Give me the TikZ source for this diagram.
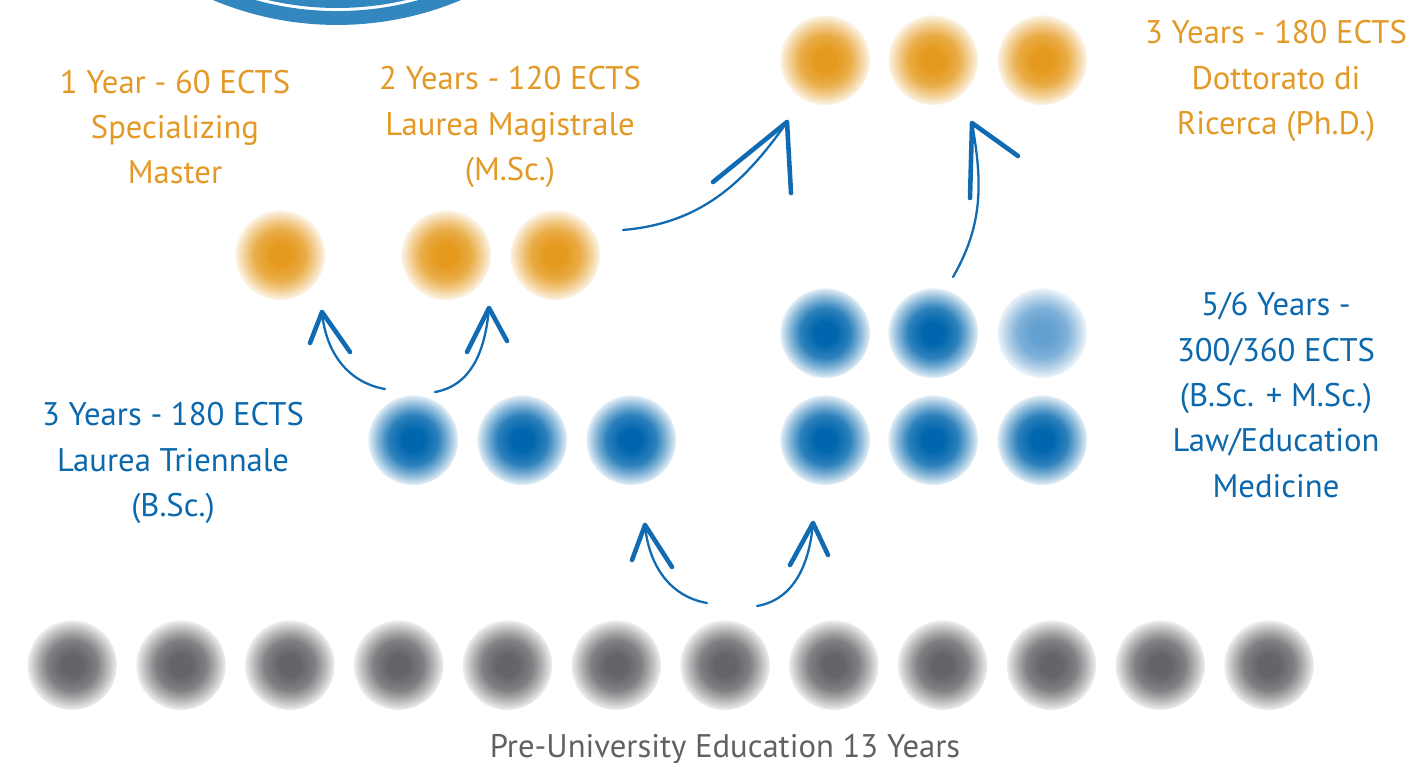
\documentclass[tikz,border=0pt]{standalone}
\usepackage{fontspec}
\setmainfont{PT Sans}
\usetikzlibrary{arrows.meta}

\definecolor{dotgray}{RGB}{100,101,104}
\definecolor{dotorange}{RGB}{229,154,30}
\definecolor{dotblue}{RGB}{0,102,173}
\definecolor{dotlight}{RGB}{100,160,208}
\definecolor{txtorange}{RGB}{227,153,38}
\definecolor{txtblue}{RGB}{11,104,173}
\definecolor{txtgray}{RGB}{97,97,97}
\definecolor{penblue}{RGB}{17,107,178}
\definecolor{ringblue}{RGB}{50,135,190}

\pgfdeclareradialshading{grayball}{\pgfpoint{0bp}{0bp}}{color(0bp)=(dotgray); color(6bp)=(dotgray); color(14bp)=(dotgray!82!white); color(20bp)=(dotgray!45!white); color(25bp)=(dotgray!10!white); color(25.3bp)=(white); color(50bp)=(white)}
\pgfdeclareradialshading{orangeball}{\pgfpoint{0bp}{0bp}}{color(0bp)=(dotorange); color(6bp)=(dotorange); color(14bp)=(dotorange!82!white); color(20bp)=(dotorange!45!white); color(25bp)=(dotorange!10!white); color(25.3bp)=(white); color(50bp)=(white)}
\pgfdeclareradialshading{blueball}{\pgfpoint{0bp}{0bp}}{color(0bp)=(dotblue); color(6bp)=(dotblue); color(14bp)=(dotblue!82!white); color(20bp)=(dotblue!45!white); color(25bp)=(dotblue!10!white); color(25.3bp)=(white); color(50bp)=(white)}
\pgfdeclareradialshading{lightball}{\pgfpoint{0bp}{0bp}}{color(0bp)=(dotlight); color(6bp)=(dotlight); color(14bp)=(dotlight!82!white); color(20bp)=(dotlight!45!white); color(25bp)=(dotlight!10!white); color(25.3bp)=(white); color(50bp)=(white)}

\begin{document}
\begin{tikzpicture}[x=0.02cm,y=0.02cm,
    dot/.style={circle,inner sep=0pt,minimum size=1.8cm},
    gdot/.style={dot,shading=grayball},
    odot/.style={dot,shading=orangeball},
    bdot/.style={dot,shading=blueball},
    ldot/.style={dot,shading=lightball},
    lbl/.style={align=center,font=\fontsize{18.6}{25.8}\selectfont},
    sk/.style={draw=penblue,line width=1.3pt,line cap=round},
    barb/.style={draw=penblue,line width=2.6pt,line cap=round}]

    \useasboundingbox (0,0) rectangle (1415,-762);

    % logo rings, cut at the top edge
    \begin{scope}
    \clip (0,0) rectangle (1415,-762);
    \draw[ringblue,line width=7.9pt] (337,295) circle[radius=313];
    \draw[ringblue,line width=6.8pt] (337,295) circle[radius=297];
    \end{scope}

    % pre-university row
    \foreach \i in {1,...,12}
        \node[gdot] (p\i) at ({72+108.8*(\i-1)},-665) {};

    % bachelor and single cycle
    \node[bdot] (b1) at (413,-440) {};
    \node[bdot] (b2) at (522,-440) {};
    \node[bdot] (b3) at (631,-440) {};
    \node[bdot] (s1) at (825,-440) {};
    \node[bdot] (s2) at (933,-440) {};
    \node[bdot] (s3) at (1042,-440) {};
    \node[bdot] (s4) at (825,-333) {};
    \node[bdot] (s5) at (933,-333) {};
    \node[ldot] (s6) at (1042,-333) {};

    % master
    \node[odot] (m1) at (280,-255) {};
    \node[odot] (m2) at (446,-255) {};
    \node[odot] (m3) at (555,-255) {};

    % doctorate
    \node[odot] (d1) at (825,-60) {};
    \node[odot] (d2) at (933,-60) {};
    \node[odot] (d3) at (1042,-60) {};

    \node[lbl,text=txtorange] (tm1) at (175,-127) {1 Year - 60 ECTS\\Specializing\\Master};
    \node[lbl,text=txtorange] (tm2) at (510,-127) {2 Years - 120 ECTS\\Laurea Magistrale\\(M.Sc.)};
    \node[lbl,text=txtorange] (td) at (1276,-81) {3 Years - 180 ECTS\\Dottorato di\\Ricerca (Ph.D.)};
    \node[lbl,text=txtblue] (ts) at (1276,-395) {5/6 Years -\\300/360 ECTS\\(B.Sc. + M.Sc.)\\Law/Education\\Medicine};
    \node[lbl,text=txtblue] (tb) at (173,-463) {3 Years - 180 ECTS\\Laurea Triennale\\(B.Sc.)};
    \node[lbl,text=txtgray,anchor=base] (tp) at (725,-757) {Pre-University Education 13 Years};

    % hand drawn arrows
    \coordinate (a1) at (385,-389); \coordinate (h1) at (322,-312);
    \coordinate (a2) at (435,-392); \coordinate (h2) at (489,-308);
    \coordinate (a3) at (707,-603); \coordinate (h3) at (645,-525);
    \coordinate (a4) at (757,-606); \coordinate (h4) at (813,-523);
    \coordinate (a5) at (623,-230); \coordinate (h5) at (787,-122);
    \coordinate (a6) at (953,-277); \coordinate (h6) at (972,-123);

    \draw[sk] (a1) to[out=170,in=-85] (h1);
    \draw[sk] (a2) to[out=10,in=-95] (h2);
    \draw[sk] (a3) to[out=170,in=-85] (h3);
    \draw[sk] (a4) to[out=10,in=-95] (h4);
    \draw[sk] (a5) to[out=5,in=235] (h5);
    \draw[sk] (a6) to[out=60,in=-80] (h6);

    \draw[barb] (h1) -- ++(-12,-31) (h1) -- ++(28,-40);
    \draw[barb] (h2) -- ++(-22,-44) (h2) -- ++(18,-33);
    \draw[barb] (h3) -- ++(-13,-35) (h3) -- ++(27,-42);
    \draw[barb] (h4) -- ++(-23,-42) (h4) -- ++(15,-32);
    \draw[barb] (h5) -- ++(-74,-60) (h5) -- ++(4,-71);
    \draw[barb] (h6) -- ++(-2,-75) (h6) -- ++(46,-33);
\end{tikzpicture}
\end{document}
